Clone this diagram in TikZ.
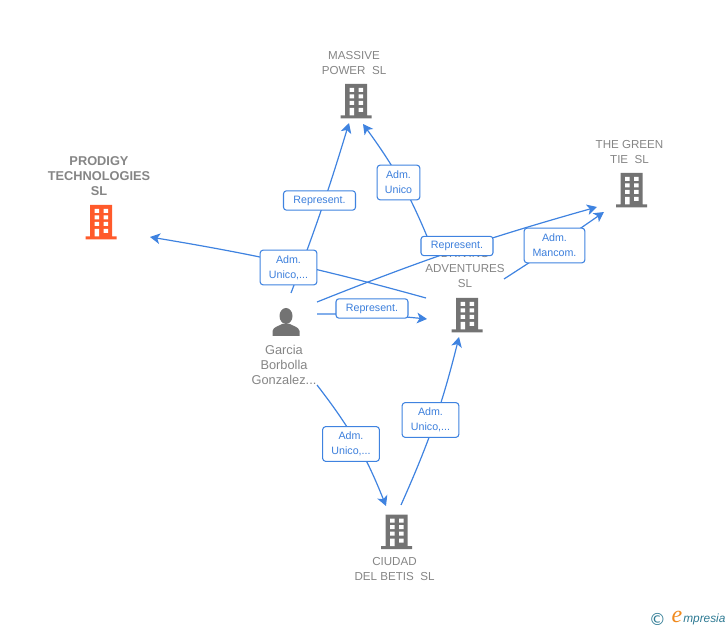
\documentclass[tikz,border=0pt]{standalone}
\usepackage{fontspec}
\setmainfont{Liberation Sans}
\usepackage{tikz}
\usetikzlibrary{positioning, arrows.meta, calc}

\definecolor{linkblue}{HTML}{3F83E0}
\definecolor{labelblue}{HTML}{3C7FDC}
\definecolor{iconblack}{HTML}{737373}
\definecolor{iconred}{HTML}{FF5A2B}
\definecolor{textgray}{HTML}{858585}
\definecolor{logoteal}{HTML}{2E7A93}
\definecolor{logoorange}{HTML}{F08A1E}

\tikzset{
  link/.style={draw=linkblue, line width=0.9pt},
  tip/.style={link, -{Stealth[length=7.5pt, width=8pt, inset=2pt]}},
  role/.style={draw=linkblue, line width=0.8pt, rounded corners=2.2pt, fill=white, text=labelblue,
    font=\fontsize{8}{11.25}\selectfont, align=center, inner sep=0pt, minimum height=14.5pt},
  entity/.style={text=textgray, font=\fontsize{8.7}{11.25}\selectfont, align=center, inner sep=0pt, xshift=-1.5pt},
  office/.style={inner sep=0pt, minimum width=24pt, minimum height=26.5pt, path picture={
    \begin{scope}[shift={(path picture bounding box.center)}]
      \fill[#1] (-11,-17) rectangle (11,15) (-15.5,14.5) rectangle (15.5,17.5);
      \foreach \wy in {-13,-6.5,0} {
        \fill[white] (-6.5,\wy) rectangle ++(4.5,4) (2.5,\wy) rectangle ++(4.5,4);
      }
      \fill[white] (-6.5,7) rectangle (-2,14.5) (2.5,7) rectangle (7,11);
    \end{scope}}},
  office/.default=iconblack,
  human/.style={inner sep=0pt, minimum width=22pt, minimum height=22pt, path picture={
    \begin{scope}[shift={(path picture bounding box.center)}]
      \fill[iconblack] (0,-6) ellipse (6.5 and 8);
      \fill[iconblack] (-13.5,14) -- (-13.5,9) .. controls (-13,5) and (-7,4) .. (-4,2)
        -- (4,2) .. controls (7,4) and (13,5) .. (13.5,9) -- (13.5,14) -- cycle;
    \end{scope}}}
}

\begin{document}
\begin{tikzpicture}[x=0.75pt, y=-0.75pt, on grid]
  \useasboundingbox (0,0) rectangle (728,630);

  % icons
  \node[office]          (massive) at (356,101)   {};
  \node[office]          (green)   at (631.5,190) {};
  \node[office=iconred]  (prodigy) at (101,222)   {};
  \node[office]          (driving) at (467,315)   {};
  \node[office]          (ciudad)  at (396.5,531.5) {};
  \node[human]           (person)  at (286,322)   {};

  % names
  \node[entity] (massivename) [above=28.25pt of massive] {MASSIVE\\POWER\ \ SL};
  \node[entity] (greenname)   [above=28.25pt of green]   {THE GREEN\\TIE\ \ SL};
  \node[entity, font=\fontsize{9.6}{11.25}\selectfont\bfseries]
                (prodigyname) [above=34.5pt of prodigy] {PRODIGY\\TECHNOLOGIES\\SL};
  \node[entity] (drivingname) [above=34.5pt of driving] {DRIVING\\ADVENTURES\\SL};
  \node[entity] (ciudadname)  [below=28pt of ciudad]  {CIUDAD\\DEL BETIS\ \ SL};
  \node[entity, font=\fontsize{9.6}{11.25}\selectfont] (personname)  [below=32pt of person]  {Garcia\\Borbolla\\Gonzalez...};

  % free ends
  \coordinate (personA)  at (291,293);
  \coordinate (massiveA) at (349,123);
  \coordinate (drivingA) at (431,246);
  \coordinate (massiveB) at (363,124);
  \coordinate (drivingB) at (426,298);
  \coordinate (prodigyA) at (150,237);
  \coordinate (personB)  at (317,302);
  \coordinate (greenA)   at (597,207);
  \coordinate (personC)  at (317,314);
  \coordinate (drivingC) at (427,319);
  \coordinate (drivingD) at (504,279);
  \coordinate (greenB)   at (604,212);
  \coordinate (personD)  at (317,385);
  \coordinate (ciudadA)  at (386,506);
  \coordinate (ciudadB)  at (401,505);
  \coordinate (drivingE) at (459,337);

  % connectors
  \draw[tip] (personA)  to[bend right=2] (massiveA);
  \draw[tip] (drivingA) to[bend right=7] (massiveB);
  \draw[tip] (drivingB) to[bend right=3] (prodigyA);
  \draw[tip] (personB)  to[bend left=3]  (greenA);
  \draw[tip] (personC)  to[bend left=3]  (drivingC);
  \draw[tip] (drivingD) to[bend right=1] (greenB);
  \draw[tip] (personD)  to[bend left=8]  (ciudadA);
  \draw[tip] (ciudadB)  to[bend right=5] (drivingE);

  % labels
  \node[role, minimum width=54pt]   (repmassive) at (319.5,200.5) {Represent.};
  \node[role, minimum width=42.5pt, minimum height=26pt] (admprodigy) at (288.5,267.5) {Adm.\\Unico,...};
  \node[role, minimum width=32pt,   minimum height=26pt] (admmassive) at (398.5,182.5) {Adm.\\Unico};
  \node[role, minimum width=54pt]   (repgreen)   at (457,246)     {Represent.};
  \node[role, minimum width=45.5pt, minimum height=26pt] (admgreen)   at (554.5,245.5) {Adm.\\Mancom.};
  \node[role, minimum width=54pt]   (repdriving) at (372,308.5)   {Represent.};
  \node[role, minimum width=42.5pt, minimum height=26pt] (admciudad)  at (351,444)     {Adm.\\Unico,...};
  \node[role, minimum width=42.5pt, minimum height=26pt] (admdriving) at (430.5,420)   {Adm.\\Unico,...};

  % logo
  \node[text=logoteal, font=\fontspec{DejaVu Sans}\fontsize{12.5}{12.5}\selectfont, inner sep=0pt] (copyr) at (657.5,619) {©};
  \node[text=logoorange, font=\fontspec{Liberation Serif}\fontsize{18}{18}\itshape\selectfont, inner sep=0pt] (logoe) at (677,617) {e};
  \node[text=logoteal, font=\fontsize{8.9}{8.9}\itshape\selectfont, inner sep=0pt, anchor=west] (logotext) at (683,619.5) {mpresia};
\end{tikzpicture}
\end{document}
